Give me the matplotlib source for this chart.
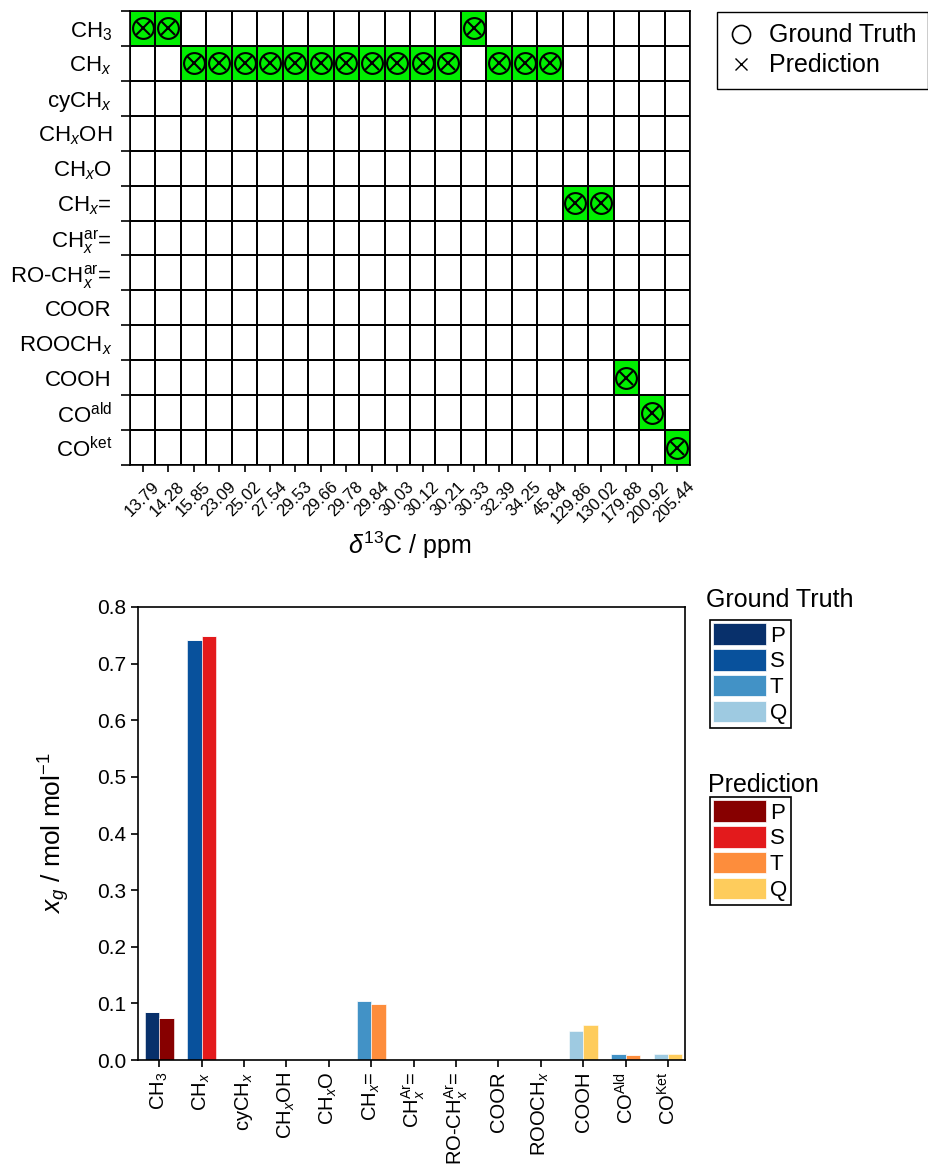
import numpy as np
import matplotlib
matplotlib.use("Agg")
import matplotlib.pyplot as plt
from matplotlib.colors import ListedColormap
from matplotlib.lines import Line2D
from matplotlib.patches import Patch
from matplotlib.transforms import ScaledTranslation

plt.rcParams['font.family'] = ['Liberation Sans', 'DejaVu Sans']
plt.rcParams['mathtext.fontset'] = 'custom'
plt.rcParams['mathtext.rm'] = 'Liberation Sans'
plt.rcParams['mathtext.it'] = 'Liberation Sans:italic'
plt.rcParams['mathtext.bf'] = 'Liberation Sans:bold'

# ----------- DATA (top: peak assignment) -----------
groups = ["CH3", "CHx", "cyCHx", "CHxOH", "CHxO", "CHx=", "CHar=", "RO-CHar=",
          "COOR", "ROOCHx", "COOH", "COald", "COket"]
group_labels = [r"CH$_3$", r"CH$_x$", r"cyCH$_x$", r"CH$_x$OH", r"CH$_x$O", r"CH$_x$=",
                r"CH$^{\mathrm{ar}}_x$=", r"RO-CH$^{\mathrm{ar}}_x$=", "COOR", r"ROOCH$_x$",
                "COOH", r"CO$^{\mathrm{ald}}$", r"CO$^{\mathrm{ket}}$"]
ppm = ["13.79", "14.28", "15.85", "23.09", "25.02", "27.54", "29.53", "29.66", "29.78",
       "29.84", "30.03", "30.12", "30.21", "30.33", "32.39", "34.25", "45.84", "129.86",
       "130.02", "179.88", "200.92", "205.44"]
gt_assign = ["CH3", "CH3", "CHx", "CHx", "CHx", "CHx", "CHx", "CHx", "CHx", "CHx", "CHx",
             "CHx", "CHx", "CH3", "CHx", "CHx", "CHx", "CHx=", "CHx=", "COOH", "COald", "COket"]
pred_assign = ["CH3", "CH3", "CHx", "CHx", "CHx", "CHx", "CHx", "CHx", "CHx", "CHx", "CHx",
               "CHx", "CHx", "CH3", "CHx", "CHx", "CHx", "CHx=", "CHx=", "COOH", "COald", "COket"]

# ----------- DATA (bottom: group mole fractions) -----------
bar_labels = [r"CH$_3$", r"CH$_x$", r"cyCH$_x$", r"CH$_x$OH", r"CH$_x$O", r"CH$_x$=",
              r"CH$^{\mathrm{Ar}}_x$=", r"RO-CH$^{\mathrm{Ar}}_x$=", "COOR", r"ROOCH$_x$",
              "COOH", r"CO$^{\mathrm{Ald}}$", r"CO$^{\mathrm{Ket}}$"]
degrees = ["P", "S", "T", "Q"]
gt_P = [0.085, 0, 0, 0, 0, 0, 0, 0, 0, 0, 0, 0, 0]
gt_S = [0, 0.741, 0, 0, 0, 0, 0, 0, 0, 0, 0, 0, 0]
gt_T = [0, 0, 0, 0, 0, 0.104, 0, 0, 0, 0, 0, 0.010, 0]
gt_Q = [0, 0, 0, 0, 0, 0, 0, 0, 0, 0, 0.052, 0, 0.011]
pred_P = [0.075, 0, 0, 0, 0, 0, 0, 0, 0, 0, 0, 0, 0]
pred_S = [0, 0.749, 0, 0, 0, 0, 0, 0, 0, 0, 0, 0, 0]
pred_T = [0, 0, 0, 0, 0, 0.099, 0, 0, 0, 0, 0, 0.008, 0]
pred_Q = [0, 0, 0, 0, 0, 0, 0, 0, 0, 0, 0.061, 0, 0.011]

gt_colors = ["#08306b", "#08519c", "#4292c6", "#9ecae1"]
pred_colors = ["#870000", "#e31a1c", "#fd8d3c", "#fecc5c"]

W, H = 929, 1166
fig = plt.figure(figsize=(W / 100, H / 100), dpi=100)

# ----------- TOP PANEL -----------
ax = fig.add_axes([130 / W, 1 - 465 / H, (690 - 130) / W, (465 - 11) / H])
n_rows, n_cols = len(groups), len(ppm)
gt_rows = np.array([groups.index(g) for g in gt_assign])
pred_rows = np.array([groups.index(g) for g in pred_assign])
match = np.zeros((n_rows, n_cols))
for c in range(n_cols):
    if gt_rows[c] == pred_rows[c]:
        match[gt_rows[c], c] = 1
ax.pcolormesh(np.arange(n_cols + 1), np.arange(n_rows + 1), match,
              cmap=ListedColormap(["white", "#00ee00"]), vmin=0, vmax=1,
              edgecolors="black", linewidth=1.2)
cols = np.arange(n_cols) + 0.5
ax.plot(cols, gt_rows + 0.5, "o", ls="", mfc="none", mec="black", ms=15, mew=1.5)
ax.plot(cols, pred_rows + 0.5, "x", ls="", color="black", ms=10, mew=1.5)
ax.set_xlim(0, n_cols)
ax.set_ylim(n_rows, 0)
ax.set_xticks(cols)
ax.set_xticklabels([])
# rotated ppm labels, anchored a bit right of each tick like the original
lab_tr = ax.get_xaxis_transform() + ScaledTranslation(0.09, -0.14, fig.dpi_scale_trans)
for c, lab in enumerate(ppm):
    ax.text(cols[c], 0, lab, transform=lab_tr, rotation=45, ha="right", va="top",
            rotation_mode="anchor", fontsize=12)
ax.set_yticks(np.arange(n_rows) + 0.5)
ax.set_yticklabels(group_labels, fontsize=16)
ax.set_yticks(np.arange(n_rows + 1), minor=True)
ax.tick_params(axis="y", which="major", length=0, pad=13)
ax.tick_params(axis="y", which="minor", length=6.5, width=1.2, direction="out")
ax.tick_params(axis="x", which="major", length=5, width=1.2, direction="out")
for s in ax.spines.values():
    s.set_linewidth(1.2)
ax.set_xlabel(r"$\delta^{\mathrm{13}}$C / ppm", fontsize=18, labelpad=38)

leg_handles = [
    Line2D([], [], marker="o", ls="", mfc="none", mec="black", ms=13, mew=1.2),
    Line2D([], [], marker="x", ls="", color="black", ms=8, mew=1.0),
]
leg = fig.legend(leg_handles, ["Ground Truth", "Prediction"], loc="upper left",
                 bbox_to_anchor=(717 / W, 1 - 12 / H), fontsize=18, frameon=True,
                 fancybox=False, edgecolor="black", framealpha=1, borderpad=0.45,
                 labelspacing=0.25, handlelength=1.0, handletextpad=0.65, borderaxespad=0)
leg.get_frame().set_linewidth(1.0)

# ----------- BOTTOM PANEL -----------
ax2 = fig.add_axes([138 / W, 1 - 1060 / H, (685 - 138) / W, (1060 - 607) / H])
x = np.arange(len(bar_labels))
w = 0.34
gt_series = [gt_P, gt_S, gt_T, gt_Q]
pred_series = [pred_P, pred_S, pred_T, pred_Q]
bottom_gt = np.zeros(len(x))
bottom_pred = np.zeros(len(x))
for i in range(len(degrees)):
    ax2.bar(x - w / 2, gt_series[i], w, bottom=bottom_gt, color=gt_colors[i],
            edgecolor="white", linewidth=0.4)
    ax2.bar(x + w / 2, pred_series[i], w, bottom=bottom_pred, color=pred_colors[i],
            edgecolor="white", linewidth=0.4)
    bottom_gt += np.array(gt_series[i])
    bottom_pred += np.array(pred_series[i])
ax2.set_xlim(-0.5, 12.4)
ax2.set_ylim(0, 0.8)
ax2.set_yticks(np.arange(0, 0.81, 0.1))
ax2.set_yticklabels([f"{v:.1f}" for v in np.arange(0, 0.81, 0.1)], fontsize=15)
ax2.set_xticks(x)
ax2.set_xticklabels(bar_labels, rotation=90, fontsize=14.5)
ax2.tick_params(axis="both", length=5, width=1.2, direction="out")
for s in ax2.spines.values():
    s.set_linewidth(1.2)
ax2.set_ylabel(r"$x_g$ / mol mol$^{\mathrm{-1}}$", fontsize=19, labelpad=18)

# two legends for the bars, titles drawn above the boxes
fig.text(706 / W, 1 - 600 / H, "Ground Truth", fontsize=18, va="center", ha="left")
fig.text(708 / W, 1 - 785 / H, "Prediction", fontsize=18, va="center", ha="left")
gt_handles = [Patch(facecolor=c, edgecolor="white", linewidth=0.5) for c in gt_colors]
pred_handles = [Patch(facecolor=c, edgecolor="white", linewidth=0.5) for c in pred_colors]
for handles, top in [(gt_handles, 620), (pred_handles, 797)]:
    lg = fig.legend(handles, degrees, loc="upper left", bbox_to_anchor=(710 / W, 1 - top / H),
                    fontsize=16, frameon=True, fancybox=False, edgecolor="black", framealpha=1,
                    borderpad=0.15, labelspacing=0.12, handlelength=2.35, handleheight=1.1,
                    handletextpad=0.2, borderaxespad=0)
    lg.get_frame().set_linewidth(1.2)

fig.savefig("out.png", dpi=100)
